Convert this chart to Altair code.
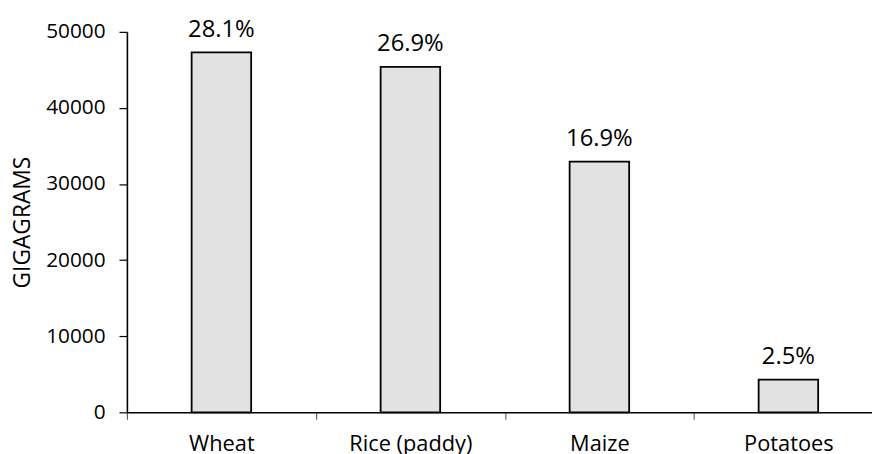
import altair as alt
import pandas as pd

crops = ["Wheat", "Rice (paddy)", "Maize", "Potatoes"]
gigagrams = [47300, 45400, 32950, 4300]
shares = ["28.1%", "26.9%", "16.9%", "2.5%"]

df = pd.DataFrame({"crop": crops, "value": gigagrams, "share": shares})

FONT = "Open Sans"

x = alt.X(
    "crop:N",
    sort=crops,
    title=None,
    scale=alt.Scale(paddingInner=0, paddingOuter=0, range=[0, 763]),
    axis=alt.Axis(
        labelAngle=0,
        labelFont=FONT,
        labelFontSize=22,
        labelColor="black",
        labelPadding=15,
        tickBand="extent",
        tickSize=7,
        tickColor="#444444",
        tickWidth=1,
        domainColor="black",
        domainWidth=1.6,
        grid=False,
    ),
)
y = alt.Y(
    "value:Q",
    title="GIGAGRAMS",
    scale=alt.Scale(domain=[0, 50000], nice=False),
    axis=alt.Axis(
        values=[0, 10000, 20000, 30000, 40000, 50000],
        format="d",
        grid=False,
        labelFont=FONT,
        labelFontSize=21,
        labelColor="black",
        labelPadding=14,
        tickSize=8,
        tickColor="black",
        tickWidth=1.2,
        domainColor="black",
        domainWidth=1.6,
        titleFont=FONT,
        titleFontSize=23,
        titleFontWeight="normal",
        titleColor="black",
        titlePadding=11,
    ),
)

bars = alt.Chart(df).mark_bar(
    width=alt.RelativeBandSize(0.315),
    fill="#e2e2e2",
    stroke="black",
    strokeWidth=1.8,
).encode(x=x, y=y)

labels = alt.Chart(df).mark_text(
    font=FONT, fontSize=24, color="black", baseline="alphabetic", dy=-16
).encode(x=alt.X("crop:N", sort=crops), y="value:Q", text="share:N")

chart = (
    alt.layer(bars, labels)
    .properties(
        width=752,
        height=384,
        autosize=alt.AutoSizeParams(type="none"),
        padding={"left": 120, "top": 22, "right": 0, "bottom": 40},
        background="white",
    )
    .configure_view(stroke="transparent", strokeWidth=0)
)

chart.save("out.html", embed_options={"renderer": "svg", "actions": False})
